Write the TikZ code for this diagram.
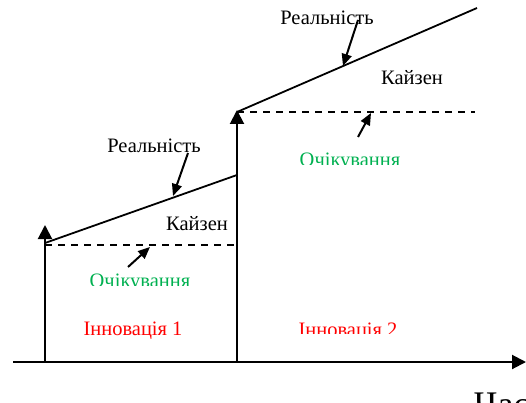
\documentclass[tikz,border=0pt]{standalone}
\usepackage{fontspec}
\setmainfont{Liberation Serif}
\usetikzlibrary{arrows.meta}
\definecolor{kgreen}{RGB}{0,176,80}
\definecolor{kred}{RGB}{255,0,0}
\tikzset{
  lbl/.style={inner sep=0pt,anchor=base,font=\fontsize{20.5}{24}\selectfont},
  ax/.style={line width=2pt,-{Triangle[length=14pt,width=14pt]}},
  real/.style={line width=1.8pt},
  expect/.style={line width=1.6pt,dash pattern=on 7pt off 6pt},
  ptr/.style={line width=2pt,-{Triangle[length=12pt,width=10pt]}}
}
\begin{document}
\begin{tikzpicture}[x=1pt,y=-1pt]
\useasboundingbox (0,0) rectangle (526,403);
% axis and verticals
\coordinate (a0) at (13,362);
\coordinate (a1) at (526,362);
\coordinate (o1) at (45,362);
\coordinate (t1) at (45,225);
\coordinate (o2) at (237,362);
\coordinate (t2) at (237,110);
\draw[ax] (a0) -- (a1);
\draw[ax] (o1) -- (t1);
\draw[ax] (o2) -- (t2);
% first step
\coordinate (r1s) at (45,243);
\coordinate (r1e) at (237,175);
\coordinate (d1s) at (45,245);
\coordinate (d1e) at (237,245);
\draw[real] (r1s) -- (r1e);
\draw[expect] (d1s) -- (d1e);
% second step
\coordinate (r2s) at (237,112);
\coordinate (r2e) at (477,8);
\coordinate (d2s) at (237,112);
\coordinate (d2e) at (475,112);
\draw[real] (r2s) -- (r2e);
\draw[expect] (d2s) -- (d2e);
% pointers
\coordinate (p1a) at (188,153); \coordinate (p1b) at (173,196);
\coordinate (p2a) at (358,20);  \coordinate (p2b) at (343,66);
\coordinate (p3a) at (128,267); \coordinate (p3b) at (150,247);
\coordinate (p4a) at (358,137); \coordinate (p4b) at (371,113);
\draw[ptr] (p1a) -- (p1b);
\draw[ptr] (p2a) -- (p2b);
\draw[ptr] (p3a) -- (p3b);
\draw[ptr] (p4a) -- (p4b);
% labels
\node[lbl] (real1) at (154,153) {Реальність};
\node[lbl] (real2) at (327,25) {Реальність};
\node[lbl] (kai1) at (197,230) {Кайзен};
\node[lbl] (kai2) at (412,85) {Кайзен};
\node[lbl,text=kred] (inn1) at (133,335) {Інновація 1};
\begin{scope}
  \clip (0,0) rectangle (526,285);
  \node[lbl,text=kgreen] (exp1) at (140,287) {Очікування};
\end{scope}
\begin{scope}
  \clip (0,0) rectangle (526,165);
  \node[lbl,text=kgreen] (exp2) at (350,167) {Очікування};
\end{scope}
\begin{scope}
  \clip (0,0) rectangle (526,333);
  \node[lbl,text=kred] (inn2) at (348,336) {Інновація 2};
\end{scope}
\node[inner sep=0pt,anchor=base west,font=\fontsize{36}{40}\selectfont] (time) at (474,416) {Час};
\end{tikzpicture}
\end{document}
